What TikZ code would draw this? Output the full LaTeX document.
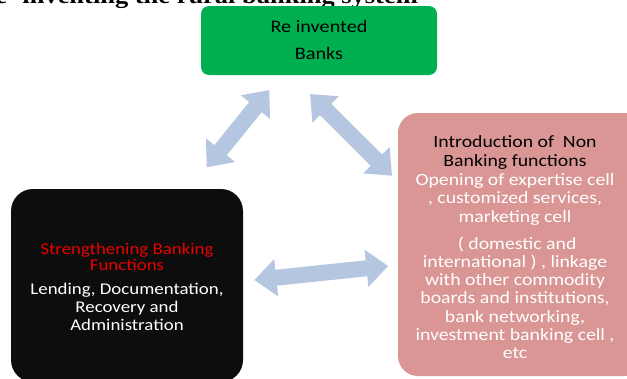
\documentclass[tikz,border=0pt]{standalone}
\usepackage{fontspec}
\setmainfont{Carlito}
\newfontfamily\boxfont{Carlito}[FakeStretch=1.15]
\newfontfamily\titlefont{Liberation Serif}[FakeStretch=1.15]
\usetikzlibrary{arrows.meta}
\definecolor{gbox}{HTML}{00B050}
\definecolor{pbox}{HTML}{D99694}
\definecolor{kbox}{HTML}{0D0D0D}
\definecolor{arrcol}{RGB}{180,198,224}
\definecolor{redtxt}{RGB}{235,0,0}
\tikzset{
  panel/.style={draw=none, inner sep=0pt, outer sep=0pt},
  txt/.style={inner sep=0pt, outer sep=0pt, align=center, anchor=base},
  blockarrow/.style={arrcol, line width=16pt,
    {Triangle[length=22pt,width=36pt]}-{Triangle[length=22pt,width=36pt]}}
}
\begin{document}
\begin{tikzpicture}[x=1pt,y=-1pt]
\useasboundingbox (0,0) rectangle (627,378);
% title (cut by the top edge)
\node[anchor=base east, inner sep=0pt,
      font=\titlefont\bfseries\fontsize{23}{23}\selectfont] (title) at (418,3)
  {Re- inventing the rural banking system};
% panels
\node[panel, fill=gbox, rounded corners=8pt, minimum width=236pt, minimum height=69pt] (green) at (319,40.5) {};
\node[panel, fill=pbox, rounded corners=20pt, minimum width=247pt, minimum height=263pt] (pink) at (521.5,244.5) {};
\node[panel, fill=kbox, rounded corners=22pt, minimum width=232pt, minimum height=193pt] (black) at (127,285.5) {};
% green text (anchor = baseline of last line)
\node[txt, font=\boxfont\fontsize{17.6}{27}\selectfont, text=black] (gt) at (319,59.3)
  {Re invented\\Banks};
% pink text
\node[txt, font=\boxfont\fontsize{17.2}{18.4}\selectfont, text=black] (pt1) at (515,166)
  {Introduction of\ \ Non\\Banking functions};
\node[txt, font=\boxfont\fontsize{17.2}{18.6}\selectfont, text=white] (pt2) at (515,222.4)
  {Opening of expertise cell\\, customized services,\\marketing cell};
\node[txt, font=\boxfont\fontsize{17.2}{18.2}\selectfont, text=white] (pt3) at (515,358.4)
  {\ ( domestic and\\international ) , linkage\\with other commodity\\boards and institutions,\\bank networking,\\investment banking cell ,\\etc};
% black text
\node[txt, font=\boxfont\fontsize{16.4}{16.8}\selectfont, text=redtxt] (kt1) at (127,270.8)
  {Strengthening Banking\\Functions};
\node[txt, font=\boxfont\fontsize{16.4}{17.8}\selectfont, text=white] (kt2) at (127,330)
  {Lending, Documentation,\\Recovery and\\Administration};
% arrows
\coordinate (a1s) at (206.7,167.3);
\coordinate (a1e) at (269.3,90);
\coordinate (a2s) at (310,94);
\coordinate (a2e) at (392,175.7);
\coordinate (a3s) at (254.3,280);
\coordinate (a3e) at (388.3,266);
\draw[blockarrow] (a1s) -- (a1e);
\draw[blockarrow] (a2s) -- (a2e);
\draw[blockarrow] (a3s) -- (a3e);
\end{tikzpicture}
\end{document}
